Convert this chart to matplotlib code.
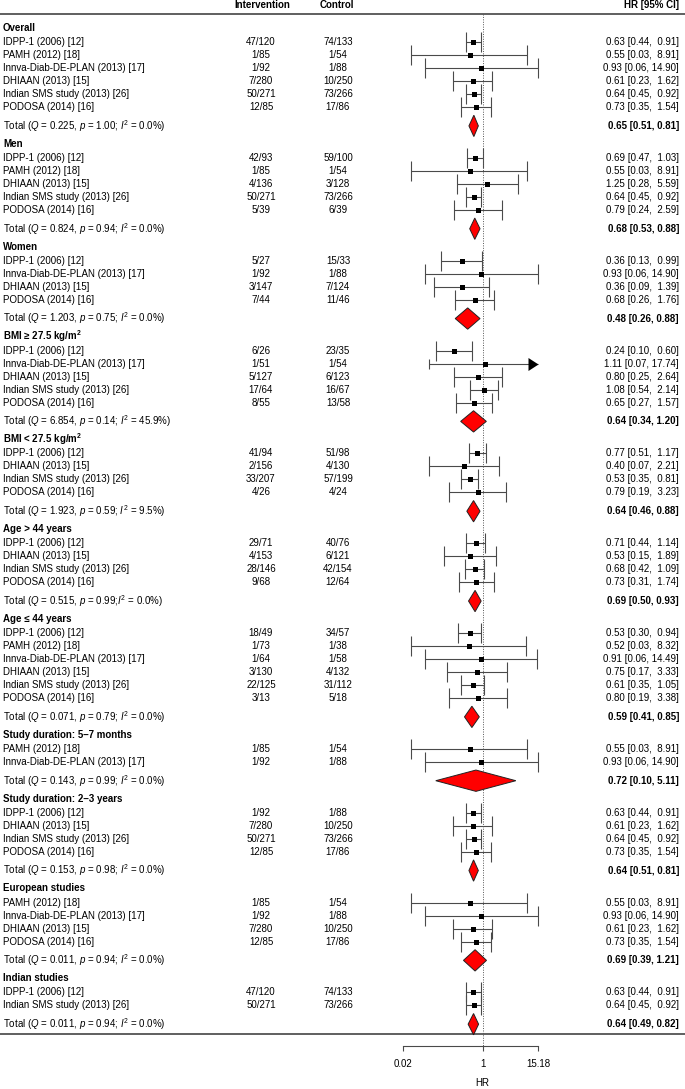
import numpy as np
import matplotlib
matplotlib.use("Agg")
import matplotlib.pyplot as plt

plt.rcParams['font.family'] = ['Liberation Sans', 'DejaVu Sans']
plt.rcParams['mathtext.fontset'] = 'custom'
plt.rcParams['mathtext.rm'] = 'Liberation Sans'
plt.rcParams['mathtext.it'] = 'Liberation Sans:italic'
plt.rcParams['mathtext.bf'] = 'Liberation Sans:bold'

# ---- data -------------------------------------------------------------
group_names = ["Overall", "Men", "Women",
               r"BMI ≥ 27.5 kg/m$^\mathbf{2}$", r"BMI < 27.5 kg/m$^\mathbf{2}$",
               "Age > 44 years", "Age ≤ 44 years",
               "Study duration: 5–7 months", "Study duration: 2–3 years",
               "European studies", "Indian studies"]

study_labels = [
    ["IDPP-1 (2006) [12]", "PAMH (2012) [18]", "Innva-Diab-DE-PLAN (2013) [17]",
     "DHIAAN (2013) [15]", "Indian SMS study (2013) [26]", "PODOSA (2014) [16]"],
    ["IDPP-1 (2006) [12]", "PAMH (2012) [18]", "DHIAAN (2013) [15]",
     "Indian SMS study (2013) [26]", "PODOSA (2014) [16]"],
    ["IDPP-1 (2006) [12]", "Innva-Diab-DE-PLAN (2013) [17]", "DHIAAN (2013) [15]",
     "PODOSA (2014) [16]"],
    ["IDPP-1 (2006) [12]", "Innva-Diab-DE-PLAN (2013) [17]", "DHIAAN (2013) [15]",
     "Indian SMS study (2013) [26]", "PODOSA (2014) [16]"],
    ["IDPP-1 (2006) [12]", "DHIAAN (2013) [15]", "Indian SMS study (2013) [26]",
     "PODOSA (2014) [16]"],
    ["IDPP-1 (2006) [12]", "DHIAAN (2013) [15]", "Indian SMS study (2013) [26]",
     "PODOSA (2014) [16]"],
    ["IDPP-1 (2006) [12]", "PAMH (2012) [18]", "Innva-Diab-DE-PLAN (2013) [17]",
     "DHIAAN (2013) [15]", "Indian SMS study (2013) [26]", "PODOSA (2014) [16]"],
    ["PAMH (2012) [18]", "Innva-Diab-DE-PLAN (2013) [17]"],
    ["IDPP-1 (2006) [12]", "DHIAAN (2013) [15]", "Indian SMS study (2013) [26]",
     "PODOSA (2014) [16]"],
    ["PAMH (2012) [18]", "Innva-Diab-DE-PLAN (2013) [17]", "DHIAAN (2013) [15]",
     "PODOSA (2014) [16]"],
    ["IDPP-1 (2006) [12]", "Indian SMS study (2013) [26]"],
]

intervention = [
    ["47/120", "1/85", "1/92", "7/280", "50/271", "12/85"],
    ["42/93", "1/85", "4/136", "50/271", "5/39"],
    ["5/27", "1/92", "3/147", "7/44"],
    ["6/26", "1/51", "5/127", "17/64", "8/55"],
    ["41/94", "2/156", "33/207", "4/26"],
    ["29/71", "4/153", "28/146", "9/68"],
    ["18/49", "1/73", "1/64", "3/130", "22/125", "3/13"],
    ["1/85", "1/92"],
    ["1/92", "7/280", "50/271", "12/85"],
    ["1/85", "1/92", "7/280", "12/85"],
    ["47/120", "50/271"],
]

control = [
    ["74/133", "1/54", "1/88", "10/250", "73/266", "17/86"],
    ["59/100", "1/54", "3/128", "73/266", "6/39"],
    ["15/33", "1/88", "7/124", "11/46"],
    ["23/35", "1/54", "6/123", "16/67", "13/58"],
    ["51/98", "4/130", "57/199", "4/24"],
    ["40/76", "6/121", "42/154", "12/64"],
    ["34/57", "1/38", "1/58", "4/132", "31/112", "5/18"],
    ["1/54", "1/88"],
    ["1/88", "10/250", "73/266", "17/86"],
    ["1/54", "1/88", "10/250", "17/86"],
    ["74/133", "73/266"],
]

hr = [
    [0.63, 0.55, 0.93, 0.61, 0.64, 0.73],
    [0.69, 0.55, 1.25, 0.64, 0.79],
    [0.36, 0.93, 0.36, 0.68],
    [0.24, 1.11, 0.80, 1.08, 0.65],
    [0.77, 0.40, 0.53, 0.79],
    [0.71, 0.53, 0.68, 0.73],
    [0.53, 0.52, 0.91, 0.75, 0.61, 0.80],
    [0.55, 0.93],
    [0.63, 0.61, 0.64, 0.73],
    [0.55, 0.93, 0.61, 0.73],
    [0.63, 0.64],
]
hr_lo = [
    [0.44, 0.03, 0.06, 0.23, 0.45, 0.35],
    [0.47, 0.03, 0.28, 0.45, 0.24],
    [0.13, 0.06, 0.09, 0.26],
    [0.10, 0.07, 0.25, 0.54, 0.27],
    [0.51, 0.07, 0.35, 0.19],
    [0.44, 0.15, 0.42, 0.31],
    [0.30, 0.03, 0.06, 0.17, 0.35, 0.19],
    [0.03, 0.06],
    [0.44, 0.23, 0.45, 0.35],
    [0.03, 0.06, 0.23, 0.35],
    [0.44, 0.45],
]
hr_hi = [
    [0.91, 8.91, 14.90, 1.62, 0.92, 1.54],
    [1.03, 8.91, 5.59, 0.92, 2.59],
    [0.99, 14.90, 1.39, 1.76],
    [0.60, 17.74, 2.64, 2.14, 1.57],
    [1.17, 2.21, 0.81, 3.23],
    [1.14, 1.89, 1.09, 1.74],
    [0.94, 8.32, 14.49, 3.33, 1.05, 3.38],
    [8.91, 14.90],
    [0.91, 1.62, 0.92, 1.54],
    [8.91, 14.90, 1.62, 1.54],
    [0.91, 0.92],
]

total_hr = [0.65, 0.68, 0.48, 0.64, 0.64, 0.69, 0.59, 0.72, 0.64, 0.69, 0.64]
total_lo = [0.51, 0.53, 0.26, 0.34, 0.46, 0.50, 0.41, 0.10, 0.51, 0.39, 0.49]
total_hi = [0.81, 0.88, 0.88, 1.20, 0.88, 0.93, 0.85, 5.11, 0.81, 1.21, 0.82]
total_q = ["0.225", "0.824", "1.203", "6.854", "1.923", "0.515", "0.071",
           "0.143", "0.153", "0.011", "0.011"]
total_p = ["1.00", "0.94", "0.75", "0.14", "0.59", "0.99", "0.79",
           "0.99", "0.98", "0.94", "0.94"]
total_i2 = ["0.0", "0.0", "0.0", "45.9", "9.5", "0.0", "0.0",
            "0.0", "0.0", "0.0", "0.0"]

x_ticks = [0.02, 1, 15.18]

# ---- layout -----------------------------------------------------------
W, H = 685, 1089
FS = 7
row_h = 13.0
line_col = '#4a4a4a'

fig = plt.figure(figsize=(W / 100, H / 100), dpi=100)
ax = fig.add_axes([0, 0, 1, 1])
ax.set_xlim(0, W)
ax.set_ylim(H, 0)
ax.axis('off')

# forest panel: log scale, 0.02 .. 15.18 spans pixels 403 .. 538
x0, x1 = 403, 538
axf = fig.add_axes([x0 / W, 0, (x1 - x0) / W, 1])
axf.set_xscale('log')
axf.set_xlim(x_ticks[0], x_ticks[-1])
axf.set_ylim(H, 0)
axf.patch.set_visible(False)

# header
ax.text(262, 5, "Intervention", ha='center', va='center', fontsize=FS, fontweight='bold')
ax.text(337, 5, "Control", ha='center', va='center', fontsize=FS, fontweight='bold')
ax.text(679, 5, "HR [95% CI]", ha='right', va='center', fontsize=FS, fontweight='bold')
ax.hlines(14, 0, W, colors='#444444', lw=1.2)

cur = 28.0
for g, name in enumerate(group_names):
    ax.text(3, cur, name, ha='left', va='center', fontsize=FS, fontweight='bold')
    ys = cur + row_h * (1.08 + np.arange(len(hr[g])))
    for i, y in enumerate(ys):
        ax.text(3, y, study_labels[g][i], ha='left', va='center', fontsize=FS)
        ax.text(261, y, intervention[g][i], ha='center', va='center', fontsize=FS)
        ax.text(338, y, control[g][i], ha='center', va='center', fontsize=FS)
        ax.text(679, y, f"{hr[g][i]:.2f} [{hr_lo[g][i]:.2f}, {hr_hi[g][i]:5.2f}]",
                ha='right', va='center', fontsize=FS)
        lo, hi = hr_lo[g][i], hr_hi[g][i]
        if hi > x_ticks[-1]:
            # CI runs past the axis limit: draw an arrow head at the edge
            axf.hlines(y, lo, x_ticks[-1], colors=line_col, lw=0.8, clip_on=False)
            axf.vlines(lo, y - 5, y + 5, colors=line_col, lw=0.8, clip_on=False)
            axf.plot([x_ticks[-1]], [y], marker=[(0, 0), (-10, 6.5), (-10, -6.5)],
                     ms=14.4, color='black', mew=0, clip_on=False)
        else:
            axf.errorbar(hr[g][i], y, xerr=[[hr[g][i] - lo], [hi - hr[g][i]]],
                         fmt='none', ecolor=line_col, elinewidth=0.8,
                         capsize=7, capthick=0.8, clip_on=False)
        axf.plot(hr[g][i], y, 's', color='black', ms=3.6, mew=0, zorder=4)

    ty = ys[-1] + 1.45 * row_h
    sep = ";" if g == 5 else "; "
    ax.text(3, ty, rf"Total ($Q$ = {total_q[g]}, $p$ = {total_p[g]}{sep}$I^2$ = {total_i2[g]}%)",
            ha='left', va='center', fontsize=FS)
    ax.text(679, ty, f"{total_hr[g]:.2f} [{total_lo[g]:.2f}, {total_hi[g]:.2f}]",
            ha='right', va='center', fontsize=FS, fontweight='bold')
    dh = 0.82 * row_h
    axf.fill([total_lo[g], total_hr[g], total_hi[g], total_hr[g]],
             [ty, ty - dh, ty, ty + dh], facecolor='#ff0000',
             edgecolor='#222222', lw=0.7, zorder=5)
    last_total = ty
    cur = ty + 1.38 * row_h

sep_y = last_total + 10
axis_y = sep_y + 12
ax.hlines(sep_y, 0, W, colors='#444444', lw=1.2)
axf.vlines(1, 14, axis_y, colors='#555555', lw=0.7, linestyles=(0, (1, 1.5)))

# bottom axis
for s in ['top', 'right', 'left']:
    axf.spines[s].set_visible(False)
axf.spines['bottom'].set_position(('data', axis_y))
axf.spines['bottom'].set_bounds(x_ticks[0], x_ticks[-1])
axf.spines['bottom'].set_color(line_col)
axf.spines['bottom'].set_linewidth(0.8)
axf.set_xticks(x_ticks)
axf.set_xticklabels(["0.02", "1", "15.18"])
axf.xaxis.set_minor_locator(matplotlib.ticker.NullLocator())
axf.tick_params(axis='x', direction='out', length=3.5, width=0.8, color=line_col,
                labelsize=FS, pad=6)
axf.set_yticks([])
axf.text(1, H - 6, "HR", ha='center', va='center', fontsize=FS)

fig.savefig("out.png", dpi=100)
